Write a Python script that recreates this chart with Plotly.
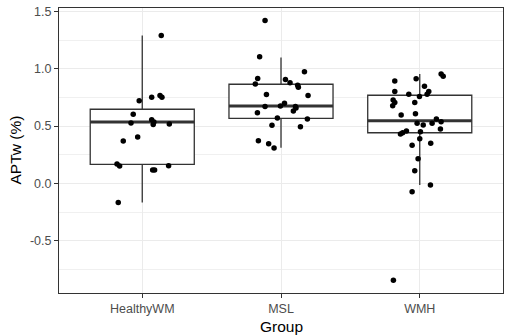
import plotly.graph_objects as go

# ---- data ----
groups = ["HealthyWM", "MSL", "WMH"]

healthy_vals = [1.29, 0.722, 0.752, 0.766, 0.752, 0.604, 0.556, 0.535, 0.527, 0.514,
                0.518, 0.405, 0.37, 0.169, 0.151, 0.154, 0.116, 0.116, -0.166]
healthy_jit = [0.137, -0.022, 0.068, 0.128, 0.142, -0.065, 0.068, 0.084, -0.081, 0.079,
               0.195, -0.033, -0.137, -0.182, -0.163, 0.19, 0.075, 0.089, -0.173]

msl_vals = [1.421, 1.104, 0.973, 0.914, 0.906, 0.868, 0.877, 0.857, 0.839, 0.775,
            0.766, 0.67, 0.676, 0.699, 0.67, 0.658, 0.632, 0.617, 0.571, 0.562,
            0.507, 0.495, 0.372, 0.346, 0.309]
msl_jit = [-0.115, -0.154, 0.169, -0.168, 0.032, -0.185, 0.065, 0.12, 0.125, -0.105,
           0.195, -0.115, -0.004, 0.025, 0.104, 0.108, 0.089, -0.17, -0.026, 0.19,
           -0.065, 0.14, -0.163, -0.089, -0.05]

wmh_vals = [0.955, 0.935, 0.894, 0.912, 0.848, 0.801, 0.778, 0.801, 0.778, 0.757,
            0.728, 0.705, 0.678, 0.705, 0.597, 0.608, 0.562, 0.524, 0.51, 0.524,
            0.538, 0.475, 0.431, 0.442, 0.457, 0.451, 0.39, 0.332, 0.35, 0.215,
            0.11, -0.015, -0.073, -0.845]
wmh_jit = [0.154, 0.169, -0.18, -0.026, 0.034, -0.18, -0.079, 0.065, 0.053, -0.002,
           -0.192, -0.18, -0.195, -0.036, -0.134, -0.031, 0.12, -0.019, 0.025, 0.089,
           0.154, 0.149, -0.139, -0.123, -0.096, 0.005, 0.0, -0.055, 0.079, -0.012,
           -0.036, 0.077, -0.055, -0.19]

# box statistics
box_lower = [-0.166, 0.312, -0.015]
box_q1 = [0.166, 0.568, 0.442]
box_median = [0.535, 0.676, 0.547]
box_q3 = [0.647, 0.865, 0.769]
box_upper = [1.29, 1.098, 0.955]

y_ticks = [-0.5, 0.0, 0.5, 1.0, 1.5]
y_tick_text = ["-0.5", "0.0", "0.5", "1.0", "1.5"]
x_title = "Group"
y_title = "APTw (%)"

# ---- build figure ----
pos = [1, 2, 3]
BOX_W = 0.75
DARK = "#333333"
FONT = "Liberation Sans, Arial, sans-serif"

fig = go.Figure()

fig.add_trace(go.Box(
    x=pos, q1=box_q1, median=box_median, q3=box_q3,
    lowerfence=box_lower, upperfence=box_upper,
    width=BOX_W, whiskerwidth=0, boxpoints=False,
    fillcolor="white", line=dict(color=DARK, width=1.3),
    showlegend=False, hoverinfo="skip",
))

# thick median bars (ggplot fatten)
mx, my = [], []
for p, m in zip(pos, box_median):
    mx += [p - BOX_W / 2, p + BOX_W / 2, None]
    my += [m, m, None]
fig.add_trace(go.Scatter(x=mx, y=my, mode="lines",
                         line=dict(color=DARK, width=3),
                         showlegend=False, hoverinfo="skip"))

all_vals = [healthy_vals, msl_vals, wmh_vals]
all_jit = [healthy_jit, msl_jit, wmh_jit]
for p, vals, jit in zip(pos, all_vals, all_jit):
    fig.add_trace(go.Scatter(
        x=[p + j for j in jit], y=vals, mode="markers",
        marker=dict(color="black", size=5.5, line=dict(width=0)),
        showlegend=False, hoverinfo="skip",
    ))

fig.update_layout(
    width=510, height=336,
    margin=dict(l=59, r=7, t=8, b=43),
    paper_bgcolor="white", plot_bgcolor="white",
    font=dict(family=FONT, color="#4D4D4D", size=12.5),
    annotations=[
        dict(text=x_title, xref="paper", yref="paper", x=0.5, y=0,
             xanchor="center", yanchor="middle", yshift=-33, showarrow=False,
             font=dict(size=15.5, color="black")),
        dict(text=y_title, xref="paper", yref="paper", x=0, y=0.5,
             xanchor="center", yanchor="middle", xshift=-44, textangle=-90,
             showarrow=False, font=dict(size=15.5, color="black")),
    ],
)

fig.update_xaxes(
    range=[0.4, 3.6], tickvals=pos, ticktext=groups,
    showgrid=True, gridcolor="#EBEBEB", gridwidth=1.2,
    zeroline=False,
    showline=True, mirror=True, linecolor=DARK, linewidth=1,
    ticks="outside", ticklen=4, tickcolor=DARK, tickwidth=1,
    tickfont=dict(size=12.5, color="#4D4D4D"),
    automargin=False,
)

fig.update_yaxes(
    range=[-0.956, 1.53], tickvals=y_ticks, ticktext=y_tick_text,
    showgrid=True, gridcolor="#EBEBEB", gridwidth=1.2,
    minor=dict(showgrid=True, gridcolor="#F0F0F0", gridwidth=0.8,
               tickvals=[-0.75, -0.25, 0.25, 0.75, 1.25], ticks=""),
    zeroline=False,
    showline=True, mirror=True, linecolor=DARK, linewidth=1,
    ticks="outside", ticklen=4, tickcolor=DARK, tickwidth=1,
    tickfont=dict(size=12.5, color="#4D4D4D"),
    automargin=False,
)

fig.write_html("out.html", config={"displayModeBar": False},
               post_script="document.body.style.margin='0';")
